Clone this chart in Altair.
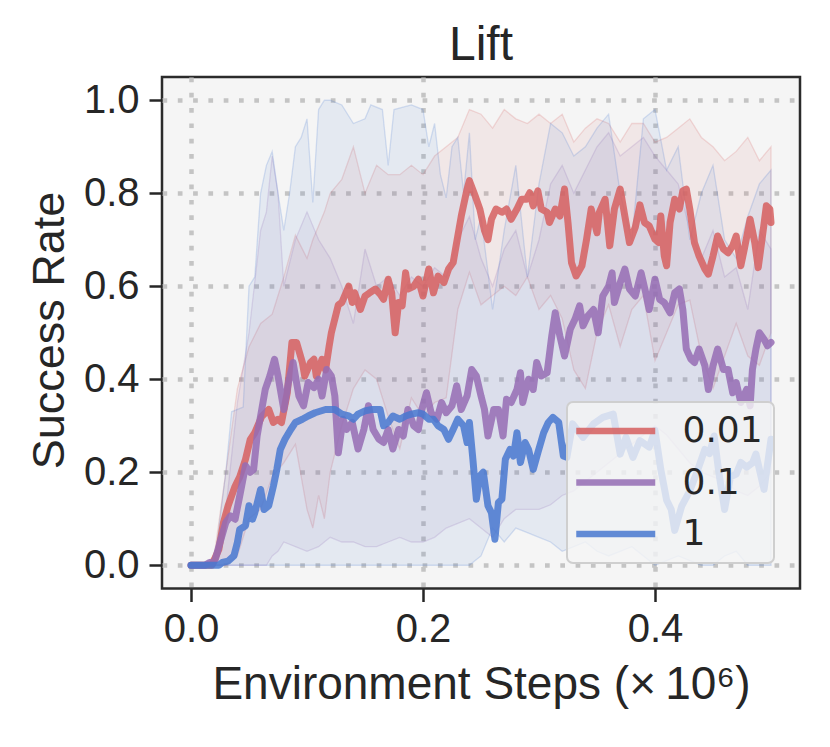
import altair as alt
import pandas as pd

# ---------------- data ----------------
series_names = ["0.01", "0.1", "1"]
series_colors = ["#d65f5f", "#956cb4", "#4878d0"]
x_ticks = [0.0, 0.2, 0.4]
y_ticks = [0.0, 0.2, 0.4, 0.6, 0.8, 1.0]

# mean success rate, [x (1e6 steps), y]
mean_001 = [[0.0, 0.0], [0.018, 0.0], [0.024, 0.034], [0.028, 0.092], [0.032, 0.128], [0.038, 0.17],
            [0.042, 0.19], [0.047, 0.228], [0.051, 0.27], [0.055, 0.285], [0.061, 0.32], [0.067, 0.335],
            [0.071, 0.307], [0.075, 0.314], [0.078, 0.307], [0.083, 0.371], [0.087, 0.479], [0.091, 0.479],
            [0.096, 0.436], [0.098, 0.407], [0.103, 0.436], [0.106, 0.443], [0.108, 0.407], [0.113, 0.443],
            [0.116, 0.42], [0.119, 0.47], [0.121, 0.50], [0.124, 0.53], [0.127, 0.56], [0.130, 0.565],
            [0.136, 0.60], [0.139, 0.565], [0.141, 0.586], [0.146, 0.55], [0.150, 0.579], [0.154, 0.586],
            [0.159, 0.594], [0.163, 0.583], [0.166, 0.572], [0.170, 0.615], [0.173, 0.586], [0.176, 0.50],
            [0.179, 0.565], [0.182, 0.558], [0.185, 0.629], [0.187, 0.594], [0.192, 0.60], [0.196, 0.615],
            [0.200, 0.579], [0.205, 0.637], [0.209, 0.586], [0.213, 0.622], [0.218, 0.608], [0.222, 0.637],
            [0.226, 0.651], [0.229, 0.694], [0.233, 0.751], [0.238, 0.809], [0.240, 0.827], [0.245, 0.794],
            [0.249, 0.766], [0.253, 0.72], [0.256, 0.70], [0.259, 0.744], [0.263, 0.766], [0.268, 0.759],
            [0.272, 0.766], [0.276, 0.744], [0.281, 0.766], [0.285, 0.787], [0.289, 0.787], [0.292, 0.801],
            [0.295, 0.773], [0.299, 0.805], [0.302, 0.766], [0.307, 0.759], [0.309, 0.737], [0.314, 0.766],
            [0.318, 0.751], [0.322, 0.809], [0.325, 0.737], [0.328, 0.651], [0.332, 0.622], [0.337, 0.644],
            [0.341, 0.701], [0.345, 0.766], [0.350, 0.715], [0.352, 0.759], [0.357, 0.787], [0.361, 0.687],
            [0.365, 0.766], [0.370, 0.809], [0.374, 0.751], [0.378, 0.694], [0.383, 0.727], [0.387, 0.775],
            [0.391, 0.737], [0.395, 0.73], [0.400, 0.701], [0.403, 0.694], [0.405, 0.751], [0.408, 0.665],
            [0.410, 0.644], [0.413, 0.737], [0.417, 0.787], [0.421, 0.766], [0.424, 0.805], [0.427, 0.809],
            [0.430, 0.766], [0.434, 0.694], [0.438, 0.665], [0.443, 0.637], [0.446, 0.626], [0.450, 0.665],
            [0.454, 0.708], [0.459, 0.68], [0.463, 0.672], [0.467, 0.687], [0.470, 0.708], [0.474, 0.644],
            [0.477, 0.68], [0.482, 0.744], [0.486, 0.694], [0.489, 0.64], [0.493, 0.715], [0.496, 0.773],
            [0.499, 0.766], [0.500, 0.737]]

mean_01 = [[0.0, 0.0], [0.012, 0.0], [0.016, 0.006], [0.019, 0.004], [0.021, 0.013], [0.025, 0.049],
           [0.030, 0.092], [0.034, 0.106], [0.038, 0.099], [0.042, 0.149], [0.047, 0.214], [0.051, 0.20],
           [0.054, 0.206], [0.057, 0.278], [0.060, 0.321], [0.064, 0.378], [0.068, 0.407], [0.072, 0.443],
           [0.075, 0.407], [0.080, 0.335], [0.084, 0.393], [0.088, 0.436], [0.093, 0.364], [0.097, 0.343],
           [0.101, 0.393], [0.106, 0.382], [0.110, 0.40], [0.113, 0.364], [0.117, 0.421], [0.121, 0.407],
           [0.124, 0.364], [0.127, 0.242], [0.131, 0.314], [0.134, 0.292], [0.139, 0.307], [0.144, 0.25],
           [0.149, 0.292], [0.153, 0.343], [0.157, 0.292], [0.162, 0.271], [0.166, 0.264], [0.170, 0.292],
           [0.174, 0.25], [0.179, 0.292], [0.183, 0.278], [0.187, 0.335], [0.192, 0.30], [0.196, 0.292],
           [0.199, 0.335], [0.203, 0.371], [0.207, 0.328], [0.212, 0.314], [0.216, 0.35], [0.220, 0.328],
           [0.225, 0.343], [0.229, 0.386], [0.233, 0.335], [0.238, 0.364], [0.242, 0.421], [0.246, 0.407],
           [0.250, 0.364], [0.253, 0.335], [0.256, 0.278], [0.261, 0.335], [0.265, 0.335], [0.269, 0.278],
           [0.272, 0.357], [0.276, 0.35], [0.281, 0.378], [0.284, 0.414], [0.286, 0.35], [0.291, 0.40],
           [0.295, 0.378], [0.298, 0.436], [0.302, 0.407], [0.307, 0.414], [0.311, 0.493], [0.314, 0.543],
           [0.318, 0.493], [0.322, 0.45], [0.327, 0.508], [0.331, 0.529], [0.335, 0.558], [0.338, 0.515],
           [0.342, 0.536], [0.347, 0.55], [0.351, 0.50], [0.355, 0.579], [0.360, 0.60], [0.363, 0.629],
           [0.365, 0.565], [0.370, 0.608], [0.374, 0.637], [0.378, 0.594], [0.383, 0.579], [0.388, 0.629],
           [0.392, 0.586], [0.395, 0.55], [0.400, 0.615], [0.404, 0.572], [0.408, 0.565], [0.413, 0.543],
           [0.417, 0.586], [0.421, 0.594], [0.424, 0.55], [0.427, 0.465], [0.431, 0.443], [0.434, 0.436],
           [0.438, 0.465], [0.443, 0.429], [0.446, 0.378], [0.450, 0.429], [0.454, 0.465], [0.459, 0.421],
           [0.463, 0.421], [0.467, 0.371], [0.470, 0.393], [0.474, 0.35], [0.479, 0.378], [0.482, 0.343],
           [0.484, 0.421], [0.487, 0.465], [0.490, 0.50], [0.494, 0.486], [0.497, 0.472], [0.500, 0.479]]

mean_1 = [[0.0, 0.0], [0.024, 0.0], [0.027, 0.006], [0.032, 0.009], [0.037, 0.02], [0.040, 0.049],
          [0.042, 0.077], [0.047, 0.085], [0.050, 0.128], [0.053, 0.099], [0.055, 0.113], [0.060, 0.163],
          [0.063, 0.12], [0.067, 0.128], [0.071, 0.17], [0.074, 0.206], [0.077, 0.249], [0.081, 0.271],
          [0.086, 0.292], [0.090, 0.307], [0.096, 0.314], [0.101, 0.321], [0.107, 0.328], [0.116, 0.335],
          [0.124, 0.335], [0.130, 0.325], [0.136, 0.321], [0.140, 0.314], [0.144, 0.325], [0.150, 0.332],
          [0.156, 0.335], [0.163, 0.335], [0.166, 0.30], [0.170, 0.307], [0.174, 0.321], [0.180, 0.314],
          [0.185, 0.321], [0.190, 0.325], [0.196, 0.328], [0.200, 0.325], [0.205, 0.314], [0.209, 0.314],
          [0.213, 0.30], [0.218, 0.292], [0.222, 0.271], [0.226, 0.292], [0.230, 0.314], [0.235, 0.30],
          [0.238, 0.264], [0.240, 0.307], [0.243, 0.228], [0.246, 0.142], [0.249, 0.192], [0.252, 0.20],
          [0.256, 0.128], [0.259, 0.113], [0.262, 0.056], [0.265, 0.135], [0.268, 0.142], [0.271, 0.228],
          [0.275, 0.249], [0.278, 0.235], [0.281, 0.285], [0.284, 0.221], [0.288, 0.264], [0.291, 0.249],
          [0.295, 0.206], [0.299, 0.242], [0.304, 0.285], [0.308, 0.307], [0.312, 0.318], [0.317, 0.307],
          [0.321, 0.235], [0.324, 0.232], [0.329, 0.304], [0.338, 0.275], [0.347, 0.304], [0.355, 0.318],
          [0.364, 0.325], [0.370, 0.239], [0.375, 0.275], [0.381, 0.232], [0.387, 0.268], [0.395, 0.254],
          [0.400, 0.29], [0.405, 0.206], [0.410, 0.14], [0.414, 0.12], [0.417, 0.075], [0.423, 0.127],
          [0.430, 0.16], [0.437, 0.206], [0.443, 0.249], [0.447, 0.24], [0.451, 0.278], [0.455, 0.2],
          [0.460, 0.12], [0.465, 0.19], [0.470, 0.196], [0.474, 0.221], [0.479, 0.211], [0.484, 0.22],
          [0.487, 0.239], [0.494, 0.163], [0.500, 0.271]]

# spread bands, [x, low, high]
band_001 = [[0.0, 0, 0], [0.01, 0, 0], [0.02, 0, 0.02], [0.03, 0, 0.2], [0.04, 0.02, 0.38], [0.05, 0.1, 0.47],
            [0.06, 0.12, 0.52], [0.07, 0.19, 0.54], [0.08, 0.22, 0.62], [0.09, 0.26, 0.71], [0.1, 0.12, 0.66],
            [0.105, 0.08, 0.7], [0.11, 0.15, 0.73], [0.115, 0.1, 0.76], [0.12, 0.2, 0.8], [0.13, 0.3, 0.83],
            [0.14, 0.38, 0.9], [0.15, 0.42, 0.8], [0.16, 0.4, 0.86], [0.17, 0.32, 0.84], [0.18, 0.25, 0.84],
            [0.19, 0.36, 0.86], [0.2, 0.32, 0.84], [0.21, 0.35, 0.88], [0.22, 0.36, 0.9], [0.23, 0.55, 0.92],
            [0.24, 0.63, 0.98], [0.25, 0.56, 0.97], [0.26, 0.58, 0.94], [0.27, 0.6, 0.98], [0.28, 0.58, 0.96],
            [0.29, 0.62, 0.95], [0.3, 0.55, 0.97], [0.31, 0.58, 0.95], [0.32, 0.53, 0.97], [0.33, 0.42, 0.91],
            [0.34, 0.38, 0.94], [0.35, 0.5, 0.96], [0.36, 0.56, 0.95], [0.37, 0.47, 0.91], [0.38, 0.55, 0.95],
            [0.39, 0.58, 0.95], [0.4, 0.44, 0.91], [0.41, 0.5, 0.92], [0.42, 0.56, 0.94], [0.43, 0.57, 0.96],
            [0.44, 0.45, 0.92], [0.45, 0.38, 0.9], [0.46, 0.45, 0.87], [0.47, 0.52, 0.89], [0.48, 0.45, 0.92],
            [0.49, 0.43, 0.87], [0.5, 0.5, 0.9]]

band_01 = [[0.0, 0, 0], [0.02, 0, 0.01], [0.03, 0, 0.12], [0.04, 0, 0.35], [0.05, 0, 0.5], [0.06, 0, 0.72],
           [0.065, 0, 0.76], [0.07, 0.02, 0.88], [0.075, 0.03, 0.8], [0.08, 0.05, 0.6], [0.09, 0.04, 0.7],
           [0.1, 0.03, 0.76], [0.11, 0.04, 0.7], [0.12, 0.06, 0.66], [0.13, 0.05, 0.6], [0.14, 0.05, 0.52],
           [0.15, 0.04, 0.68], [0.16, 0.04, 0.6], [0.17, 0.05, 0.62], [0.18, 0.06, 0.58], [0.19, 0.05, 0.62],
           [0.2, 0.05, 0.6], [0.21, 0.06, 0.64], [0.22, 0.08, 0.62], [0.23, 0.09, 0.7], [0.24, 0.1, 0.75],
           [0.25, 0.08, 0.66], [0.26, 0.06, 0.6], [0.27, 0.1, 0.68], [0.28, 0.12, 0.72], [0.29, 0.12, 0.62],
           [0.3, 0.12, 0.7], [0.31, 0.13, 0.82], [0.32, 0.15, 0.86], [0.33, 0.16, 0.8], [0.34, 0.18, 0.85],
           [0.35, 0.2, 0.9], [0.36, 0.22, 0.93], [0.37, 0.24, 0.88], [0.38, 0.26, 0.9], [0.39, 0.28, 0.92],
           [0.4, 0.3, 0.88], [0.41, 0.28, 0.85], [0.42, 0.25, 0.82], [0.43, 0.22, 0.72], [0.44, 0.2, 0.66],
           [0.45, 0.19, 0.72], [0.46, 0.18, 0.62], [0.47, 0.16, 0.64], [0.48, 0.15, 0.55], [0.49, 0.17, 0.72],
           [0.5, 0.2, 0.68]]

band_1 = [[0.0, 0, 0], [0.02, 0, 0], [0.03, 0, 0.2], [0.035, 0, 0.33], [0.045, 0, 0.34], [0.05, 0, 0.6],
          [0.055, 0, 0.62], [0.06, 0, 0.8], [0.065, 0, 0.86], [0.07, 0, 0.89], [0.075, 0, 0.8], [0.08, 0, 0.72],
          [0.085, 0, 0.8], [0.09, 0, 0.9], [0.095, 0, 0.92], [0.1, 0, 0.96], [0.105, 0, 0.78], [0.11, 0, 0.98],
          [0.115, 0, 1.0], [0.12, 0, 1.0], [0.13, 0, 0.99], [0.14, 0, 0.95], [0.15, 0, 0.96], [0.155, 0, 0.99],
          [0.165, 0, 0.98], [0.17, 0, 0.86], [0.175, 0, 0.98], [0.19, 0, 0.99], [0.2, 0, 0.98], [0.205, 0, 0.9],
          [0.21, 0, 0.95], [0.215, 0, 0.84], [0.22, 0, 0.79], [0.225, 0, 0.9], [0.23, 0, 0.92], [0.235, 0, 0.8],
          [0.24, 0, 0.93], [0.245, 0.01, 0.7], [0.25, 0.02, 0.75], [0.26, 0.08, 0.55], [0.27, 0.05, 0.72],
          [0.28, 0.08, 0.86], [0.29, 0.07, 0.62], [0.3, 0.06, 0.82], [0.31, 0.05, 0.95], [0.32, 0.03, 0.93],
          [0.33, 0.04, 0.88], [0.34, 0.05, 0.9], [0.35, 0.03, 0.94], [0.36, 0.02, 0.97], [0.37, 0.03, 0.8],
          [0.38, 0.04, 0.7], [0.39, 0.02, 0.96], [0.4, 0, 0.98], [0.41, 0.01, 0.85], [0.42, 0.02, 0.9],
          [0.43, 0.01, 0.7], [0.44, 0, 0.8], [0.45, 0, 0.86], [0.46, 0.02, 0.7], [0.47, 0.03, 0.66],
          [0.48, 0, 0.75], [0.49, 0, 0.82], [0.5, 0, 0.85]]

# ---------------- tables ----------------
line_rows = []
for name, pts in zip(series_names, [mean_001, mean_01, mean_1]):
    for x, y in pts:
        line_rows.append({"series": name, "x": x, "y": y})
lines_df = pd.DataFrame(line_rows)

FONT = "Liberation Sans"
TXT = "#262626"

xscale = alt.Scale(domain=[-0.025, 0.525], nice=False, zero=False)
yscale = alt.Scale(domain=[-0.05, 1.05], nice=False, zero=False)
cscale = alt.Scale(domain=series_names, range=series_colors)

x_axis = alt.Axis(values=x_ticks, format=".1f", title="Environment Steps (×\u200910⁶)",
                  titleFontSize=46, titleFont=FONT, titleColor=TXT, titleFontWeight="normal",
                  titleBaseline="alphabetic", titleY=110,
                  labelFontSize=40, labelFont=FONT, labelColor=TXT, labelPadding=8,
                  tickSize=13, tickWidth=2.5, tickColor=TXT, domain=False,
                  grid=True, gridColor="#c4c4c4", gridWidth=4.5, gridDash=[4.7, 10.6])
y_axis = alt.Axis(values=y_ticks, format=".1f", title="Success Rate",
                  titleFontSize=45, titleFont=FONT, titleColor=TXT, titleFontWeight="normal",
                  titleAngle=270, titleBaseline="alphabetic", titleAlign="center",
                  titleX=-99, titleY=253,
                  labelFontSize=40, labelFont=FONT, labelColor=TXT, labelPadding=10,
                  tickSize=13, tickWidth=2.5, tickColor=TXT, domain=False,
                  grid=True, gridColor="#c4c4c4", gridWidth=4.5, gridDash=[4.7, 10.6])

band_layers = []
for k, (name, pts, col) in enumerate(zip(series_names, [band_001, band_01, band_1], series_colors)):
    bdf = pd.DataFrame(pts, columns=["x", "lo", "hi"])
    enc = dict(x=alt.X("x:Q", scale=xscale), y=alt.Y("lo:Q", scale=yscale), y2="hi:Q")
    if k == 0:
        enc = dict(x=alt.X("x:Q", scale=xscale, axis=x_axis),
                   y=alt.Y("lo:Q", scale=yscale, axis=y_axis), y2="hi:Q")
    band_layers.append(
        alt.Chart(bdf).mark_area(fill=col, stroke=col, fillOpacity=0.09, strokeOpacity=0.2,
                                 strokeWidth=1.3, orient="vertical").encode(**enc)
    )

lines = alt.Chart(lines_df).mark_line(strokeWidth=7, opacity=0.85, strokeJoin="round",
                                      strokeCap="round").encode(
    x=alt.X("x:Q", scale=xscale),
    y=alt.Y("y:Q", scale=yscale),
    color=alt.Color("series:N", scale=cscale, sort=series_names, legend=alt.Legend(
        title=None, orient="none", legendX=405, legendY=325,
        symbolType="M-2,0L6,0", symbolSize=390, symbolStrokeWidth=6.5, symbolOpacity=0.85,
        labelFontSize=36, labelFont="DejaVu Sans", labelColor=TXT, labelOffset=68.5,
        padding=11, rowPadding=15.5, fillColor="rgba(245,245,245,0.8)",
        strokeColor="#cfcfcf", cornerRadius=6)),
)

chart = alt.layer(*band_layers, lines).properties(
    width=638, height=511.5,
    title=alt.TitleParams("Lift", fontSize=48, font=FONT, color=TXT, fontWeight="normal", offset=7),
    padding={"left": 154, "top": 69, "right": 22, "bottom": 150},
    autosize=alt.AutoSizeParams(type="none"),
).configure_view(
    fill="#f5f5f5", stroke="#2b2b2b", strokeWidth=2.5
).configure_legend(strokeWidth=2)

chart.save("out.html", embed_options={"renderer": "svg", "actions": False})
